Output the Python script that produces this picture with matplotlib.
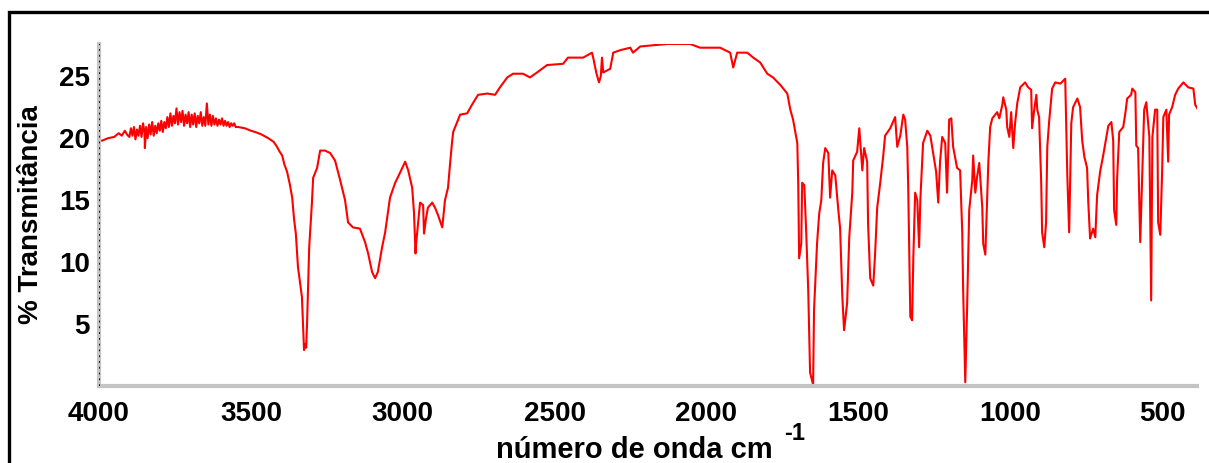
import matplotlib.pyplot as plt
from matplotlib.patches import Rectangle
from matplotlib.ticker import MultipleLocator

plt.rcParams["font.family"] = ["Liberation Sans", "DejaVu Sans"]

# IR spectrum (wavenumber in cm-1, % transmittance)
# noisy O-H / water-vapour region, 4000-3550
WN_HIGH = [
    4000, 3990, 3970, 3950, 3935, 3925, 3915, 3908,
    3900, 3895, 3890, 3885, 3880, 3875, 3870, 3865, 3860, 3855, 3850, 3849,
    3845, 3840, 3835, 3830, 3825, 3820, 3815, 3810, 3805, 3800, 3795, 3790,
    3785, 3780, 3775, 3770, 3765, 3760, 3755, 3750, 3745, 3740, 3735, 3730,
    3725, 3720, 3715, 3710, 3705, 3700, 3695, 3690, 3685, 3680, 3675, 3670,
    3665, 3660, 3655, 3650, 3645, 3640, 3635, 3630, 3625, 3620, 3615, 3610,
    3605, 3600, 3595, 3590, 3585, 3580, 3575, 3570, 3565, 3560, 3555, 3550,
]
T_HIGH = [
    19.8, 19.8, 20.0, 20.1, 20.4, 20.2, 20.6, 20.3,
    20.1, 20.8, 20.2, 20.9, 19.9, 20.7, 20.2, 21.0, 20.1, 21.2, 20.4, 19.2,
    20.9, 20.0, 21.1, 20.3, 21.3, 20.2, 21.0, 20.4, 21.2, 20.6, 21.4, 20.5,
    21.3, 20.8, 21.7, 20.9, 22.0, 21.0, 21.8, 21.2, 22.4, 21.1, 22.1, 21.3,
    22.2, 21.0, 21.9, 21.2, 22.1, 20.9, 21.9, 21.1, 22.0, 20.9, 21.8, 21.2,
    22.1, 21.0, 21.7, 21.0, 22.8, 21.1, 21.9, 21.0, 21.8, 21.1, 21.6, 21.0,
    21.5, 21.1, 21.6, 21.0, 21.4, 21.0, 21.3, 20.9, 21.2, 21.0, 21.2, 20.9,
]
WN_MAIN = [
    3542, 3520, 3500, 3486, 3465, 3443, 3425, 3414, 3405, 3397, 3390,
    3381, 3372, 3364, 3358, 3352, 3345, 3338, 3332, 3328, 3325, 3320, 3318,
    3315, 3308, 3299, 3295, 3282, 3272, 3256, 3239, 3223, 3206, 3190, 3180,
    3164, 3141, 3124, 3114, 3101, 3091, 3082, 3068, 3058, 3042, 3025, 3015,
    2992, 2982, 2969, 2963, 2958, 2956, 2950, 2943, 2933, 2930, 2923, 2917,
    2903, 2894, 2884, 2870, 2867, 2861, 2851, 2844, 2838, 2834, 2821, 2811,
    2788, 2772, 2752, 2722, 2696, 2680, 2656, 2637, 2604, 2581, 2558, 2525,
    2472, 2456, 2406, 2377, 2373, 2363, 2354, 2348, 2344, 2340, 2317, 2307,
    2284, 2251, 2242, 2218, 2130, 2054, 2021, 1955, 1922, 1912, 1899, 1866,
    1846, 1823, 1800, 1781, 1757, 1734, 1724, 1715, 1701, 1698, 1695, 1688,
    1685, 1678, 1672, 1665, 1659, 1649, 1646, 1636, 1629, 1622, 1616, 1609,
    1599, 1593, 1586, 1576, 1566, 1560, 1553, 1547, 1537, 1530, 1520, 1517,
    1504, 1497, 1487, 1481, 1471, 1468, 1461, 1451, 1445, 1438, 1428, 1418,
    1412, 1395, 1379, 1372, 1362, 1352, 1346, 1339, 1336, 1329, 1323, 1319,
    1313, 1306, 1300, 1296, 1287, 1273, 1263, 1254, 1244, 1237, 1231, 1224,
    1214, 1208, 1201, 1194, 1188, 1175, 1165, 1158, 1155, 1148, 1142, 1135,
    1125, 1122, 1115, 1109, 1102, 1092, 1089, 1082, 1076, 1072, 1066, 1059,
    1043, 1036, 1026, 1023, 1013, 1010, 1003, 997, 990, 984, 977, 967,
    951, 941, 931, 928, 921, 914, 911, 905, 898, 895, 888, 882,
    878, 872, 862, 852, 835, 819, 812, 806, 799, 793, 779, 770,
    763, 756, 747, 743, 737, 727, 720, 714, 704, 694, 684, 677,
    667, 661, 658, 651, 648, 641, 628, 621, 615, 602, 598, 588,
    585, 579, 572, 565, 559, 552, 546, 542, 536, 532, 523, 516,
    513, 506, 500, 496, 486, 480, 477, 467, 457, 447, 430, 414,
    397, 391, 384,
]
T_MAIN = [
    20.9, 20.8, 20.6, 20.5, 20.3, 20.0, 19.7, 19.3, 18.9, 18.6, 17.9,
    17.3, 16.3, 15.2, 13.5, 12.3, 9.6, 8.3, 7.2, 4.7, 2.9, 3.4, 3.1,
    5.1, 11.2, 14.8, 16.8, 17.6, 19.0, 19.0, 18.8, 18.2, 16.6, 15.0, 13.2,
    12.8, 12.7, 11.6, 10.7, 9.2, 8.7, 9.2, 11.2, 12.4, 15.2, 16.4, 16.9,
    18.1, 17.4, 16.0, 14.0, 10.7, 11.5, 13.0, 14.8, 14.6, 12.3, 13.6, 14.4,
    14.8, 14.4, 13.8, 12.8, 13.5, 15.0, 16.0, 18.0, 19.6, 20.5, 21.3, 21.9,
    22.0, 22.7, 23.5, 23.6, 23.5, 24.1, 24.9, 25.2, 25.2, 24.9, 25.3, 25.9,
    26.0, 26.5, 26.5, 26.9, 26.5, 25.3, 24.5, 25.0, 26.5, 25.3, 25.6, 26.9,
    27.1, 27.3, 26.9, 27.4, 27.6, 27.6, 27.3, 27.3, 26.9, 25.7, 26.9, 26.9,
    26.5, 26.1, 25.2, 24.9, 24.3, 23.6, 22.3, 21.5, 19.6, 16.4, 10.3, 11.5,
    16.4, 16.2, 12.6, 7.7, 1.1, 0.1, 6.1, 11.5, 13.9, 15.0, 18.0, 19.2,
    18.8, 15.2, 17.4, 17.0, 14.2, 12.7, 7.3, 4.5, 6.7, 12.0, 15.6, 18.2,
    18.9, 20.8, 17.4, 19.2, 18.1, 13.1, 8.7, 8.1, 10.6, 14.4, 16.4, 18.6,
    20.2, 20.8, 21.7, 19.3, 20.2, 21.9, 21.5, 19.3, 16.2, 5.6, 5.3, 10.4,
    15.6, 15.0, 11.2, 15.0, 19.6, 20.6, 20.2, 18.8, 17.3, 14.8, 18.1, 20.1,
    19.6, 15.6, 21.5, 21.6, 19.3, 17.6, 17.4, 12.4, 7.7, 0.3, 6.3, 14.2,
    16.6, 18.6, 15.6, 16.9, 18.0, 14.4, 11.5, 10.6, 15.0, 18.1, 20.9, 21.6,
    22.1, 21.6, 22.7, 23.3, 22.3, 20.9, 20.1, 22.1, 19.2, 21.2, 22.8, 24.1,
    24.5, 24.1, 23.9, 20.8, 22.3, 23.5, 22.3, 21.7, 16.4, 12.4, 11.2, 13.2,
    19.3, 21.3, 24.0, 24.5, 24.4, 24.8, 16.9, 12.4, 21.2, 22.5, 23.2, 22.5,
    19.8, 18.5, 17.6, 14.8, 11.9, 12.7, 12.0, 15.4, 17.3, 18.6, 20.0, 21.0,
    21.3, 19.8, 14.2, 13.0, 16.8, 20.5, 20.9, 22.0, 23.2, 23.5, 24.0, 23.7,
    19.4, 19.2, 11.6, 17.3, 22.3, 22.9, 21.2, 20.1, 6.9, 20.1, 22.3, 22.3,
    13.2, 12.2, 17.2, 21.7, 22.3, 18.1, 21.9, 22.5, 23.5, 24.0, 24.5, 24.1,
    24.0, 22.7, 22.4,
]
Y_TICKS = [5, 10, 15, 20, 25]
X_TICKS = [4000, 3500, 3000, 2500, 2000, 1500, 1000, 500]

fig = plt.figure(figsize=(12.09, 4.63), dpi=100)
ax = fig.add_axes([0.0819, 0.1663, 0.9082, 0.7387])

ax.plot(WN_HIGH + WN_MAIN, T_HIGH + T_MAIN, color="#ff0000", linewidth=1.5)

ax.set_xlim(4000, 385)
ax.set_ylim(0, 27.6)
ax.set_xticks(X_TICKS)
ax.set_yticks(Y_TICKS)
ax.xaxis.set_minor_locator(MultipleLocator(100))
ax.yaxis.set_minor_locator(MultipleLocator(0.65))

for side in ("top", "right"):
    ax.spines[side].set_visible(False)
for side in ("left", "bottom"):
    ax.spines[side].set_color("#c4c4c4")
    ax.spines[side].set_linewidth(3)
ax.axvline(4000, color="black", linewidth=1.3, linestyle=(0, (1, 2.2)),
           zorder=5)

ax.tick_params(axis="both", which="both", direction="inout", color="black",
               width=1.6)
ax.tick_params(axis="both", which="major", length=3)
ax.tick_params(axis="both", which="minor", length=1.6)
ax.tick_params(axis="x", which="major", pad=9)
ax.tick_params(axis="y", which="major", pad=5)
for lab in ax.get_xticklabels() + ax.get_yticklabels():
    lab.set_fontsize(20)
    lab.set_fontweight("bold")

ax.set_ylabel("% Transmitância", fontsize=20, fontweight="bold")
ax.yaxis.set_label_coords(-0.05, 0.5)

fig.text(634 / 1209, 1 - 450 / 463, "número de onda cm", fontsize=21,
         fontweight="bold", ha="center", va="center")
fig.text(795 / 1209, 1 - 433 / 463, "-1", fontsize=17, fontweight="bold",
         ha="center", va="center")

# frame around the figure (cut off at right and bottom)
fig.patches.append(Rectangle((9 / 1209, -0.1), 1.2, 0.974 + 0.1,
                             transform=fig.transFigure, fill=False,
                             edgecolor="black", linewidth=2.4))

fig.savefig("out.png", dpi=100)
